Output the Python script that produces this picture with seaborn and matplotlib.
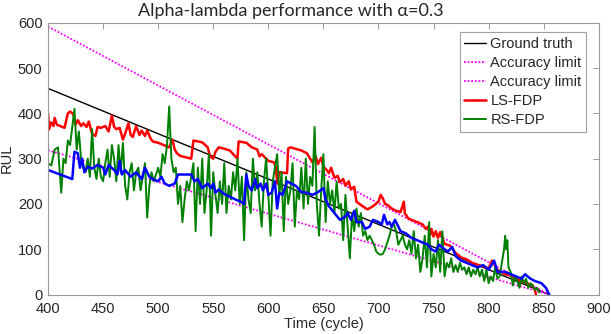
import numpy as np
import pandas as pd
import matplotlib
matplotlib.use("Agg")
import matplotlib.pyplot as plt
import seaborn as sns

sns.set_style("white")
plt.rcParams['font.family'] = ['Liberation Sans', 'DejaVu Sans']

# ---- data ----
alpha = 0.3
gt_time = [400, 855]
gt_rul = [455, 0]

ls_time = [400, 401, 403, 405, 406, 408, 415, 418, 420, 423, 425, 427, 430, 432, 435, 437, 440, 443, 445,
           448, 452, 455, 458, 460, 462, 465, 468, 470, 473, 475, 477, 480, 483, 485, 488, 490, 493, 495,
           500, 505, 510, 513, 515, 517, 520, 530, 532, 540, 545, 547, 550, 552, 555, 560, 565, 570, 572,
           573, 580, 585, 590, 592, 594, 600, 605, 607, 608, 610, 617, 618, 620, 630, 635, 640, 643, 645,
           648, 650, 653, 655, 657, 660, 663, 665, 668, 670, 673, 675, 678, 680, 685, 690, 695, 700, 702,
           704, 706, 708, 712, 715, 720, 723, 724, 725, 727, 730, 740, 743, 745, 747, 748, 750, 752, 754,
           756, 760, 765, 770, 775, 780, 785, 790, 795, 800, 803, 805, 807, 810, 815, 820, 825, 830, 835,
           840, 842, 843]
ls_rul = [400, 365, 380, 372, 390, 375, 368, 400, 404, 398, 375, 385, 372, 378, 370, 382, 355, 350, 370,
          368, 372, 360, 395, 370, 365, 368, 342, 355, 378, 352, 348, 372, 352, 362, 350, 362, 345, 338,
          335, 330, 325, 342, 320, 312, 306, 300, 340, 336, 325, 305, 300, 315, 325, 322, 318, 305, 300,
          338, 335, 325, 320, 305, 310, 295, 292, 280, 245, 270, 268, 322, 325, 318, 312, 292, 305, 288,
          302, 282, 275, 268, 280, 258, 262, 248, 255, 240, 250, 232, 238, 205, 196, 188, 195, 205, 220,
          212, 200, 198, 190, 186, 182, 205, 178, 176, 168, 165, 155, 145, 150, 132, 145, 128, 140, 125,
          138, 112, 108, 92, 82, 78, 70, 66, 62, 58, 75, 68, 56, 52, 45, 42, 35, 30, 25,
          20, 10, 0]

bl_time = [400, 422, 424, 427, 429, 431, 433, 436, 440, 445, 450, 452, 455, 460, 463, 465, 467, 470, 475,
           480, 485, 488, 492, 495, 500, 503, 506, 510, 515, 518, 522, 530, 533, 536, 540, 545, 548, 550,
           552, 555, 560, 565, 570, 575, 578, 580, 582, 585, 588, 590, 593, 595, 598, 600, 603, 606, 608,
           610, 613, 617, 620, 625, 630, 635, 640, 645, 650, 652, 655, 660, 665, 670, 672, 675, 678, 680,
           685, 688, 692, 695, 700, 703, 705, 708, 710, 712, 715, 718, 720, 725, 730, 735, 740, 745, 748,
           752, 755, 760, 763, 767, 770, 775, 780, 785, 790, 795, 800, 805, 808, 815, 820, 825, 830, 833,
           838, 842, 848, 852, 855]
bl_rul = [275, 255, 315, 312, 280, 300, 270, 282, 278, 286, 280, 265, 286, 275, 265, 295, 265, 275, 260,
          270, 255, 280, 260, 255, 250, 260, 245, 240, 245, 265, 265, 265, 250, 255, 235, 245, 235, 245,
          225, 232, 222, 216, 210, 205, 200, 265, 240, 230, 255, 235, 245, 230, 245, 220, 225, 250, 190,
          225, 220, 250, 246, 240, 226, 225, 220, 226, 235, 210, 195, 180, 165, 172, 180, 165, 185, 160,
          160, 145, 150, 165, 160, 155, 176, 155, 160, 150, 165, 150, 140, 135, 125, 120, 115, 110, 100,
          95, 110, 100, 95, 105, 85, 75, 70, 65, 60, 65, 55, 75, 50, 50, 45, 40, 35, 45,
          35, 30, 25, 15, 0]

rs_time = [400, 403, 406, 409, 411, 412, 414, 416, 418, 420, 422, 424, 426, 428, 430, 432, 434, 436, 438,
           440, 442, 444, 446, 448, 450, 452, 454, 456, 458, 460, 462, 464, 466, 468, 470, 472, 474, 476,
           478, 480, 482, 484, 486, 488, 490, 492, 494, 496, 498, 500, 502, 504, 506, 508, 510, 512, 514,
           516, 518, 520, 522, 524, 526, 528, 530, 532, 534, 536, 538, 540, 542, 544, 546, 548, 550, 552,
           554, 556, 558, 560, 562, 564, 566, 568, 570, 572, 574, 576, 578, 580, 582, 584, 586, 588, 590,
           592, 594, 596, 598, 600, 602, 604, 606, 608, 610, 612, 614, 616, 618, 620, 622, 624, 626, 628,
           630, 632, 634, 636, 638, 640, 642, 644, 646, 648, 650, 652, 654, 656, 658, 660, 662, 664, 666,
           668, 670, 672, 674, 676, 678, 680, 682, 684, 686, 688, 690, 692, 694, 696, 698, 700, 702, 704,
           706, 708, 710, 712, 714, 716, 718, 720, 722, 724, 726, 728, 730, 732, 734, 736, 738, 740, 742,
           744, 746, 748, 750, 752, 754, 756, 758, 760, 762, 764, 766, 768, 770, 772, 774, 776, 778, 780,
           782, 784, 786, 788, 790, 792, 794, 796, 798, 800, 802, 804, 806, 808, 810, 812, 814, 815, 816,
           817, 818, 820, 822, 824, 826, 828, 830, 832, 834, 836, 838, 840, 842, 844, 846]
rs_rul = [290, 285, 320, 325, 260, 225, 300, 290, 340, 330, 370, 410, 320, 360, 300, 280, 270, 300, 260,
          365, 280, 255, 300, 260, 250, 290, 320, 260, 330, 300, 250, 330, 270, 335, 240, 210, 270, 290,
          230, 270, 280, 230, 260, 290, 170, 240, 270, 250, 265, 280, 260, 310, 290, 330, 415, 300, 270,
          280, 200, 240, 160, 210, 250, 230, 260, 290, 140, 280, 200, 300, 180, 230, 310, 130, 270, 220,
          180, 250, 200, 290, 180, 240, 210, 270, 230, 300, 200, 260, 120, 270, 210, 180, 300, 230, 270,
          200, 150, 250, 300, 220, 130, 250, 280, 310, 220, 270, 140, 260, 200, 230, 290, 150, 230, 210,
          280, 190, 300, 200, 260, 240, 370, 200, 130, 230, 310, 160, 250, 200, 230, 180, 250, 190, 200,
          120, 220, 150, 80, 180, 140, 190, 150, 180, 130, 140, 120, 130, 120, 110, 95, 90, 88, 90,
          100, 115, 130, 150, 155, 140, 110, 120, 130, 110, 100, 120, 90, 140, 80, 110, 50, 80, 130,
          60, 160, 40, 90, 60, 120, 50, 140, 40, 70, 60, 80, 50, 65, 50, 70, 55, 60, 45,
          60, 40, 55, 45, 60, 40, 55, 30, 55, 25, 40, 30, 60, 35, 40, 70, 100, 130, 100,
          120, 60, 50, 20, 40, 30, 15, 40, 25, 35, 15, 25, 20, 10, 15, 5]

xticks = [400, 450, 500, 550, 600, 650, 700, 750, 800, 850, 900]
yticks = [0, 100, 200, 300, 400, 500, 600]

gt = pd.DataFrame({"t": gt_time, "rul": gt_rul})
upper = pd.DataFrame({"t": gt_time, "rul": [(1 + alpha) * v for v in gt_rul]})
lower = pd.DataFrame({"t": gt_time, "rul": [(1 - alpha) * v for v in gt_rul]})
ls = pd.DataFrame({"t": ls_time, "rul": ls_rul})
bl = pd.DataFrame({"t": bl_time, "rul": bl_rul})
rs = pd.DataFrame({"t": rs_time, "rul": rs_rul})

fig = plt.figure(figsize=(6.11, 3.34), dpi=100)
ax = fig.add_axes([0.0786, 0.118, 0.9014, 0.814])

sns.lineplot(data=gt, x="t", y="rul", ax=ax, color="black", lw=1.0, label="Ground truth")
sns.lineplot(data=upper, x="t", y="rul", ax=ax, color="#ff00ff", lw=1.3, ls=(0, (1, 1)), label="Accuracy limit")
sns.lineplot(data=lower, x="t", y="rul", ax=ax, color="#ff00ff", lw=1.3, ls=(0, (1, 1)), label="Accuracy limit")
sns.lineplot(data=ls, x="t", y="rul", ax=ax, color="#ff0000", lw=1.8, label="LS-FDP", estimator=None, sort=False)
sns.lineplot(data=rs, x="t", y="rul", ax=ax, color="#008000", lw=1.4, label="RS-FDP", estimator=None, sort=False)
sns.lineplot(data=bl, x="t", y="rul", ax=ax, color="#0000ff", lw=1.8, legend=False, estimator=None, sort=False)

ax.set_xlim(400, 900)
ax.set_ylim(0, 600)
ax.set_xticks(xticks)
ax.set_yticks(yticks)
ax.tick_params(direction="in", length=4, width=0.6, color="#888888", labelsize=10.5,
               top=True, right=True, labelcolor="#262626")
ax.tick_params(axis="y", pad=4)
ax.tick_params(axis="x", pad=5)
for s in ax.spines.values():
    s.set_color("#999999")
    s.set_linewidth(0.8)
ax.set_xlabel("Time (cycle)", fontsize=10.5, labelpad=1)
ax.set_ylabel("RUL", fontsize=10.5, labelpad=3)
ax.text(0.44, 1.012, "Alpha-lambda performance with α=0.3", transform=ax.transAxes,
        ha="center", va="bottom", fontsize=13, family=["Lato", "DejaVu Sans"])

leg = ax.legend(loc="upper right", bbox_to_anchor=(0.982, 0.975), fontsize=10.5, frameon=True, fancybox=False,
                edgecolor="#888888", handlelength=1.5, handletextpad=0.3, borderpad=0.3,
                labelspacing=0.35, borderaxespad=0.2)
leg.get_frame().set_linewidth(0.8)

fig.savefig("out.png", dpi=100)
